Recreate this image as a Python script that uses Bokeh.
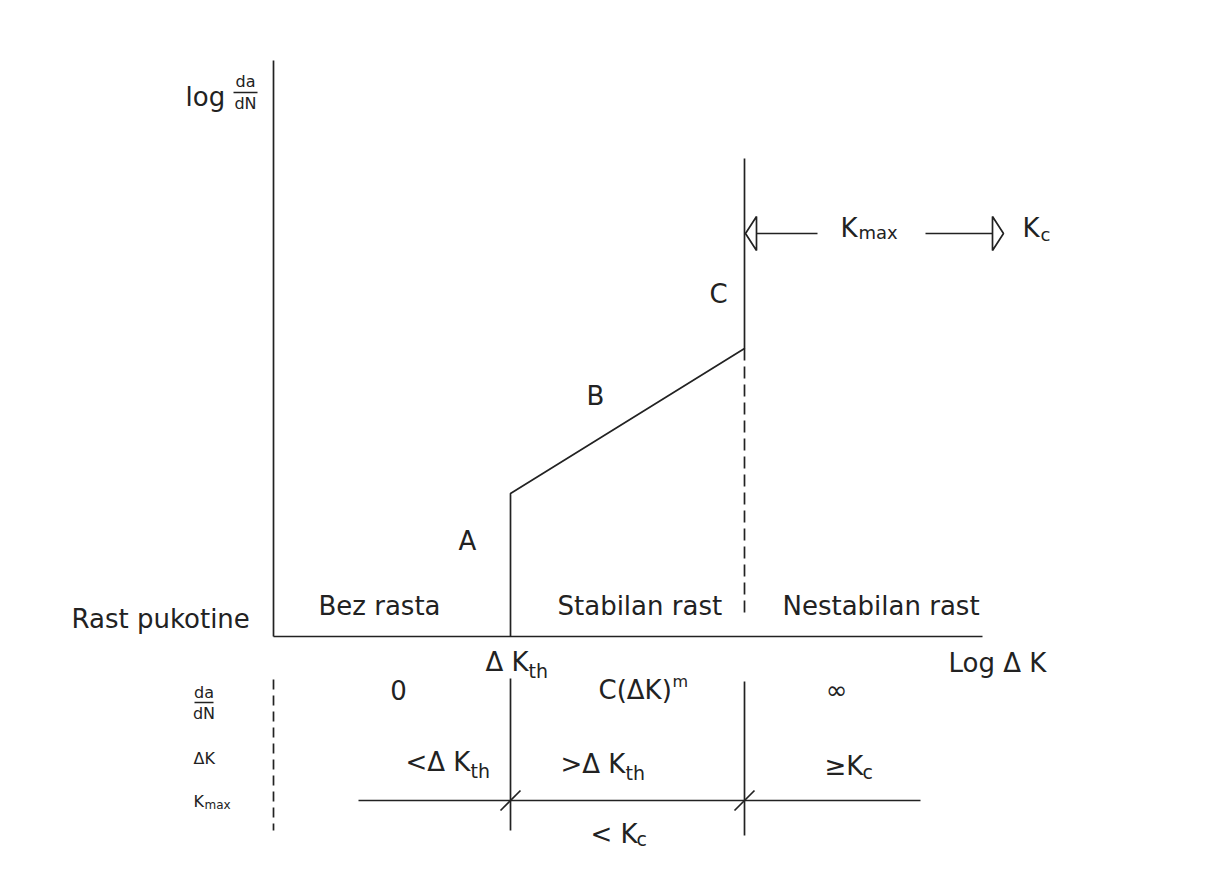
from bokeh.plotting import figure
from bokeh.models import Range1d, ColumnDataSource
from bokeh.core.properties import value
from bokeh.embed import file_html
from bokeh.resources import INLINE

# ---- schematic values (horizontal: log dK, vertical: log da/dN) ----
dK_th = 2.37          # threshold position
K_c = 4.71            # critical position
axis_x_end = 7.09
axis_y_end = 5.76
curve_x = [dK_th, dK_th, K_c, K_c]
curve_y = [0.0, 1.43, 2.88, 4.78]
dash_y = [2.88, 0.21]

# table (below the axis)
table_top = -0.43
table_bottom = -1.94
kmax_row_y = -1.64
kmax_row_x = [0.85, 6.47]

# Kmax -> Kc arrows
arrow_y = 4.03
arrow_left_line = [4.83, 5.44]
arrow_right_line = [6.52, 7.19]

INK = "#222222"
FONT = value("DejaVu Sans")

p = figure(width=1198, height=857,
           x_range=Range1d(-2.73, 9.25), y_range=Range1d(-2.21, 6.36),
           output_backend="svg", toolbar_location=None, min_border=0,
           x_axis_location=None, y_axis_location=None)
p.grid.visible = False
p.outline_line_color = None
p.background_fill_color = "white"
p.border_fill_color = "white"

lw = 1.7
# axes
p.line([0, 0], [0, axis_y_end], line_color=INK, line_width=lw)
p.line([0, axis_x_end], [0, 0], line_color=INK, line_width=lw)
# crack growth curve
p.line(curve_x, curve_y, line_color=INK, line_width=lw)
p.line([K_c, K_c], dash_y, line_color=INK, line_width=lw, line_dash="12 6")

# arrows
p.line(arrow_left_line, [arrow_y, arrow_y], line_color=INK, line_width=lw)
p.line(arrow_right_line, [arrow_y, arrow_y], line_color=INK, line_width=lw)
head_h = 0.17
head_l = 0.11
p.patches(
    [[arrow_left_line[0] - head_l, arrow_left_line[0], arrow_left_line[0]],
     [arrow_right_line[1] + head_l, arrow_right_line[1], arrow_right_line[1]]],
    [[arrow_y, arrow_y + head_h, arrow_y - head_h],
     [arrow_y, arrow_y + head_h, arrow_y - head_h]],
    fill_color=None, line_color=INK, line_width=lw)

# table lines
p.line([0, 0], [table_top, table_bottom], line_color=INK, line_width=lw, line_dash="10 6")
p.line([dK_th, dK_th], [table_top + 0.01, table_bottom], line_color=INK, line_width=lw)
p.line([K_c, K_c], [table_top - 0.02, table_bottom - 0.05], line_color=INK, line_width=lw)
p.line(kmax_row_x, [kmax_row_y, kmax_row_y], line_color=INK, line_width=lw)
s = 0.10
p.multi_line([[dK_th - s, dK_th + s], [K_c - s, K_c + s]],
             [[kmax_row_y - s, kmax_row_y + s], [kmax_row_y - s, kmax_row_y + s]],
             line_color=INK, line_width=lw)

# fraction bars
p.multi_line([[-0.40, -0.16], [-0.79, -0.60]], [[5.44, 5.44], [-0.66, -0.66]],
             line_color=INK, line_width=1.3)

# ---- labels ----
labels = [
    # text, x, y (baseline), size, align
    ("log", -0.88, 5.31, 26, "left"),
    ("da", -0.28, 5.50, 16, "center"),
    ("dN", -0.28, 5.28, 16, "center"),
    ("K", 5.67, 4.00, 26, "left"),
    ("max", 5.85, 3.98, 18, "left"),
    ("K", 7.49, 4.00, 26, "left"),
    ("c", 7.67, 3.96, 18, "left"),
    ("C", 4.45, 3.34, 26, "center"),
    ("B", 3.22, 2.32, 26, "center"),
    ("A", 1.94, 0.87, 26, "center"),
    ("Rast pukotine", -2.02, 0.09, 26, "left"),
    ("Bez rasta", 0.45, 0.22, 26, "left"),
    ("Stabilan rast", 2.84, 0.22, 26, "left"),
    ("Nestabilan rast", 5.09, 0.22, 26, "left"),
    ("Δ K", 2.12, -0.34, 26, "left"),
    ("th", 2.55, -0.41, 19, "left"),
    ("Log Δ K", 6.75, -0.35, 26, "left"),
    ("da", -0.695, -0.61, 16, "center"),
    ("dN", -0.695, -0.82, 16, "center"),
    ("ΔK", -0.80, -1.27, 16, "left"),
    ("K", -0.80, -1.70, 16, "left"),
    ("max", -0.69, -1.72, 12, "left"),
    ("0", 1.25, -0.62, 26, "center"),
    ("C(ΔK)", 3.25, -0.62, 26, "left"),
    ("m", 3.99, -0.50, 16, "left"),
    ("∞", 5.63, -0.62, 26, "center"),
    ("<Δ K", 1.32, -1.34, 26, "left"),
    ("th", 1.97, -1.41, 19, "left"),
    (">Δ K", 2.87, -1.36, 26, "left"),
    ("th", 3.52, -1.43, 19, "left"),
    ("≥K", 5.51, -1.38, 26, "left"),
    ("c", 5.89, -1.42, 19, "left"),
    ("< K", 3.17, -2.06, 26, "left"),
    ("c", 3.63, -2.09, 19, "left"),
]

# the svg text is drawn slightly below the requested baseline; lift it
LIFT = 0.0032

for align in ("left", "center"):
    sub = [l for l in labels if l[4] == align]
    src = ColumnDataSource(dict(
        x=[l[1] for l in sub], y=[l[2] + LIFT * l[3] for l in sub],
        text=[l[0] for l in sub], size=["%dpx" % l[3] for l in sub]))
    p.text(x="x", y="y", text="text", source=src, text_font=FONT,
           text_font_size="size", text_color=INK, text_align=align,
           text_baseline="alphabetic")

open("out.html", "w").write(file_html(p, INLINE))
